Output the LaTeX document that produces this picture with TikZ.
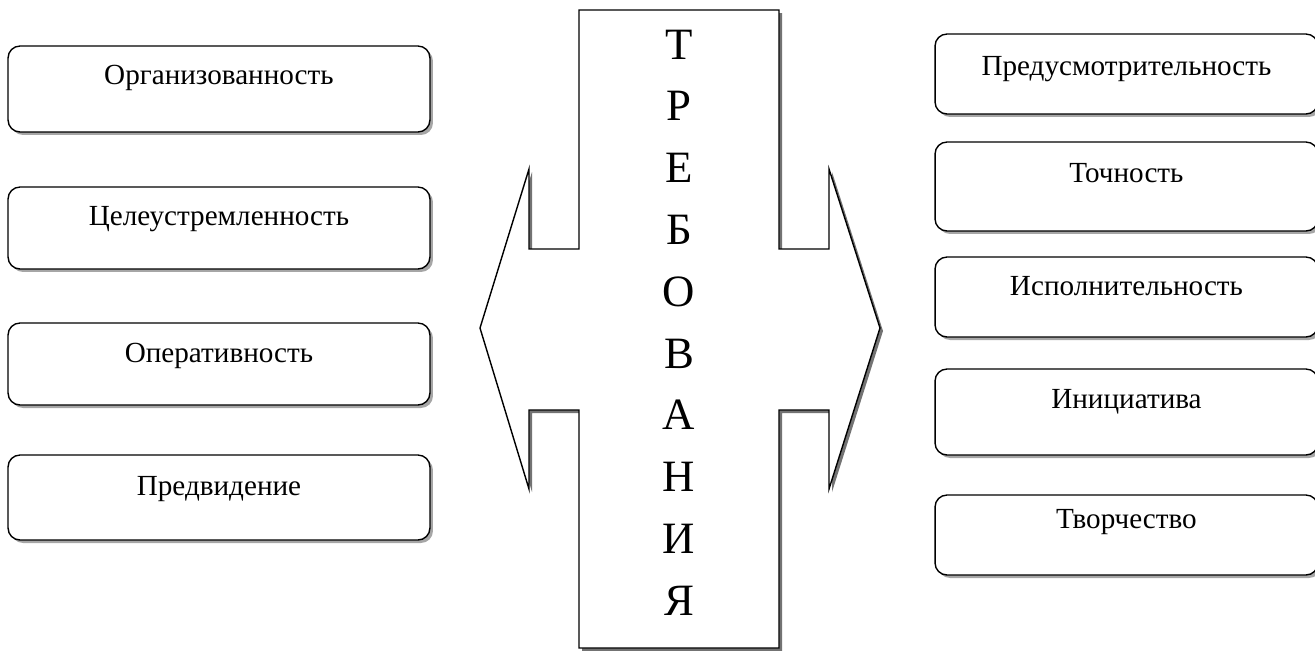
\documentclass[tikz,border=0pt]{standalone}
\usepackage{fontspec}
\setmainfont{Liberation Serif}
\usetikzlibrary{shadows}

\begin{document}
\begin{tikzpicture}[x=0.02cm,y=-0.02cm]
\tikzstyle{item}=[draw,line width=0.8pt,rounded corners=0.24cm,fill=white,inner sep=0pt,drop shadow={shadow xshift=0.06cm,shadow yshift=-0.06cm,fill=black!35,opacity=1}]
\tikzstyle{leftitem}=[item,minimum width=8.44cm]
\tikzstyle{rightitem}=[item,minimum width=7.66cm]
\tikzstyle{word}=[anchor=base,inner sep=0pt,font=\fontsize{16.6}{20}\selectfont]
\tikzstyle{letter}=[anchor=base,inner sep=0pt,font=\fontsize{25.5}{30}\selectfont]
\tikzstyle{reqshape}=[draw,line width=0.8pt,fill=white,drop shadow={shadow xshift=0.06cm,shadow yshift=-0.06cm,fill=black!55,opacity=1}]
\useasboundingbox (0,0) rectangle (1315,650);

% central figure
\draw[reqshape] (579,10) -- (779,10) -- (779,249) -- (829,249) -- (829,169) -- (880,328)
  -- (829,489) -- (829,410) -- (779,410) -- (779,648) -- (579,648) -- (579,410)
  -- (529,410) -- (529,489) -- (480,328) -- (529,169) -- (529,249) -- (579,249) -- cycle;
\foreach \l [count=\i] in {Т,Р,Е,Б,О,В,А,Н,И,Я}
  \node[letter] (R_\i) at (679,{59+61.8*(\i-1)}) {\l};

% left column
\node[leftitem,minimum height=1.72cm] (L_1) at (219,89) {};
\node[leftitem,minimum height=1.64cm] (L_2) at (219,228) {};
\node[leftitem,minimum height=1.64cm] (L_3) at (219,364) {};
\node[leftitem,minimum height=1.70cm] (L_4) at (219,497.5) {};
\node[word] (LW_1) at (219,84.5) {Организованность};
\node[word] (LW_2) at (219,225.5) {Целеустремленность};
\node[word] (LW_3) at (219,362.5) {Оперативность};
\node[word] (LW_4) at (219,495.5) {Предвидение};

% right column
\node[rightitem,minimum height=1.60cm] (P_1) at (1126.5,74) {};
\node[rightitem,minimum height=1.78cm] (P_2) at (1126.5,186.5) {};
\node[rightitem,minimum height=1.60cm] (P_3) at (1126.5,297) {};
\node[rightitem,minimum height=1.72cm] (P_4) at (1126.5,412) {};
\node[rightitem,minimum height=1.60cm] (P_5) at (1126.5,535) {};
\node[word] (PW_1) at (1126.5,75.5) {Предусмотрительность};
\node[word] (PW_2) at (1126.5,182.5) {Точность};
\node[word] (PW_3) at (1126.5,295.5) {Исполнительность};
\node[word] (PW_4) at (1126.5,408.5) {Инициатива};
\node[word] (PW_5) at (1126.5,528.5) {Творчество};
\end{tikzpicture}
\end{document}
